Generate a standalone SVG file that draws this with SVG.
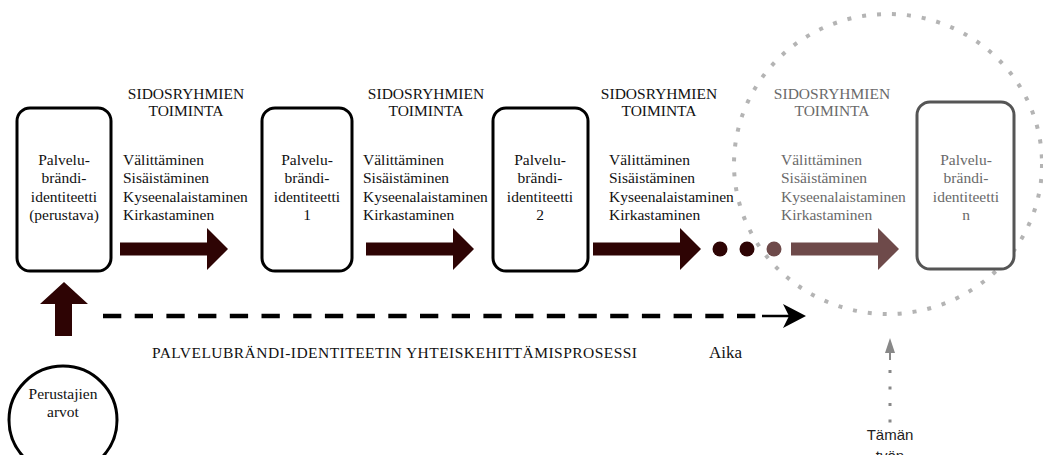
<svg xmlns="http://www.w3.org/2000/svg" width="1043" height="455" viewBox="0 0 1043 455">
  <defs>
    <style>
      text { font-family: "Liberation Serif", "Times New Roman", serif; font-size: 15.5px; fill: #111; }
      .mid { text-anchor: middle; }
      .faded { fill: #6a6a6a; }
      .box { fill: #fff; stroke: #000; stroke-width: 3; }
      .box-faded { fill: #fff; stroke: #555; stroke-width: 3; }
      .flow { fill: #2e0404; }
      .flow-faded { fill: #6e4a4a; }
      .time { font-size: 17px; }
      .sans { font-family: "Liberation Sans", Arial, sans-serif; font-size: 15px; fill: #222; }
    </style>
    <!-- thick block arrow pointing right, origin at shaft start / centre line -->
    <path id="block-arrow" d="M0,-6.5 H87 V-21 L108,0 L87,21 V6.5 H0 Z"/>
  </defs>

  <rect width="1043" height="455" fill="#fff"/>

  <!-- dotted scope circle -->
  <ellipse cx="888" cy="164" rx="154" ry="150" fill="none" stroke="#b4b4b4" stroke-width="4" stroke-dasharray="4 11"/>

  <g id="connectors">
    <use href="#block-arrow" x="120" y="249" class="flow"/>
    <use href="#block-arrow" x="366" y="249" class="flow"/>
    <use href="#block-arrow" x="593" y="249" class="flow"/>
    <!-- ellipsis -->
    <circle cx="720" cy="249" r="7.5" class="flow"/>
    <circle cx="747" cy="249" r="7.5" class="flow"/>
    <circle cx="774" cy="249" r="7.5" class="flow-faded"/>
    <use href="#block-arrow" x="791" y="249" class="flow-faded"/>

    <!-- founders' values into the first identity -->
    <path d="M64,282 L88,304 H72 V336 H55 V304 H40 Z" class="flow"/>

    <!-- time axis -->
    <line x1="103" y1="316" x2="760" y2="316" stroke="#000" stroke-width="4.5" stroke-dasharray="18.3 13.4"/>
    <line x1="762" y1="316" x2="795" y2="316" stroke="#000" stroke-width="2.5"/>
    <path d="M806,316 L783,304 L789,316 L783,328 Z" fill="#000"/>

    <!-- pointer to the scope -->
    <line x1="890" y1="352" x2="890" y2="360" stroke="#888" stroke-width="2"/>
    <line x1="890" y1="370" x2="890" y2="424" stroke="#888" stroke-width="3" stroke-dasharray="3 13.5"/>
    <path d="M890,338 L895,353 L885,353 Z" fill="#888"/>
  </g>

  <g id="identity-0">
    <rect x="17" y="108" width="94" height="163" rx="13" class="box"/>
    <text class="mid" x="64" y="165">Palvelu-</text>
    <text class="mid" x="64" y="183">brändi-</text>
    <text class="mid" x="64" y="201.5">identiteetti</text>
    <text class="mid" x="64" y="219.5">(perustava)</text>
  </g>

  <g id="identity-1">
    <rect x="262" y="108" width="90" height="163" rx="13" class="box"/>
    <text class="mid" x="307" y="165">Palvelu-</text>
    <text class="mid" x="307" y="183">brändi-</text>
    <text class="mid" x="307" y="201.5">identiteetti</text>
    <text class="mid" x="307" y="219.5">1</text>
  </g>

  <g id="identity-2">
    <rect x="493" y="108" width="95" height="163" rx="13" class="box"/>
    <text class="mid" x="540" y="165">Palvelu-</text>
    <text class="mid" x="540" y="183">brändi-</text>
    <text class="mid" x="540" y="201.5">identiteetti</text>
    <text class="mid" x="540" y="219.5">2</text>
  </g>

  <g id="identity-n">
    <rect x="917" y="102" width="97" height="167" rx="13" class="box-faded"/>
    <text class="mid faded" x="966" y="165">Palvelu-</text>
    <text class="mid faded" x="966" y="183">brändi-</text>
    <text class="mid faded" x="966" y="201.5">identiteetti</text>
    <text class="mid faded" x="966" y="219.5">n</text>
  </g>

  <g id="activity-1">
    <text class="mid" x="186" y="99">SIDOSRYHMIEN</text>
    <text class="mid" x="186" y="116">TOIMINTA</text>
    <text x="123" y="165">Välittäminen</text>
    <text x="123" y="183">Sisäistäminen</text>
    <text x="123" y="201.5">Kyseenalaistaminen</text>
    <text x="123" y="219.5">Kirkastaminen</text>
  </g>

  <g id="activity-2">
    <text class="mid" x="426" y="99">SIDOSRYHMIEN</text>
    <text class="mid" x="426" y="116">TOIMINTA</text>
    <text x="363" y="165">Välittäminen</text>
    <text x="363" y="183">Sisäistäminen</text>
    <text x="363" y="201.5">Kyseenalaistaminen</text>
    <text x="363" y="219.5">Kirkastaminen</text>
  </g>

  <g id="activity-3">
    <text class="mid" x="659" y="99">SIDOSRYHMIEN</text>
    <text class="mid" x="659" y="116">TOIMINTA</text>
    <text x="609" y="165">Välittäminen</text>
    <text x="609" y="183">Sisäistäminen</text>
    <text x="609" y="201.5">Kyseenalaistaminen</text>
    <text x="609" y="219.5">Kirkastaminen</text>
  </g>

  <g id="activity-n">
    <text class="mid faded" x="832" y="99">SIDOSRYHMIEN</text>
    <text class="mid faded" x="832" y="116">TOIMINTA</text>
    <text class="faded" x="781" y="165">Välittäminen</text>
    <text class="faded" x="781" y="183">Sisäistäminen</text>
    <text class="faded" x="781" y="201.5">Kyseenalaistaminen</text>
    <text class="faded" x="781" y="219.5">Kirkastaminen</text>
  </g>

  <g id="founders-values">
    <circle cx="63" cy="420" r="54" fill="#fff" stroke="#000" stroke-width="3"/>
    <text class="mid" x="63" y="399">Perustajien</text>
    <text class="mid" x="63" y="417">arvot</text>
  </g>

  <g id="process-label">
    <text x="152" y="358" textLength="485">PALVELUBRÄNDI-IDENTITEETIN YHTEISKEHITTÄMISPROSESSI</text>
    <text class="time" x="709" y="358">Aika</text>
  </g>

  <g id="scope-label">
    <text class="mid sans" x="890" y="440">Tämän</text>
    <text class="mid sans" x="890" y="461">työn</text>
  </g>
</svg>
